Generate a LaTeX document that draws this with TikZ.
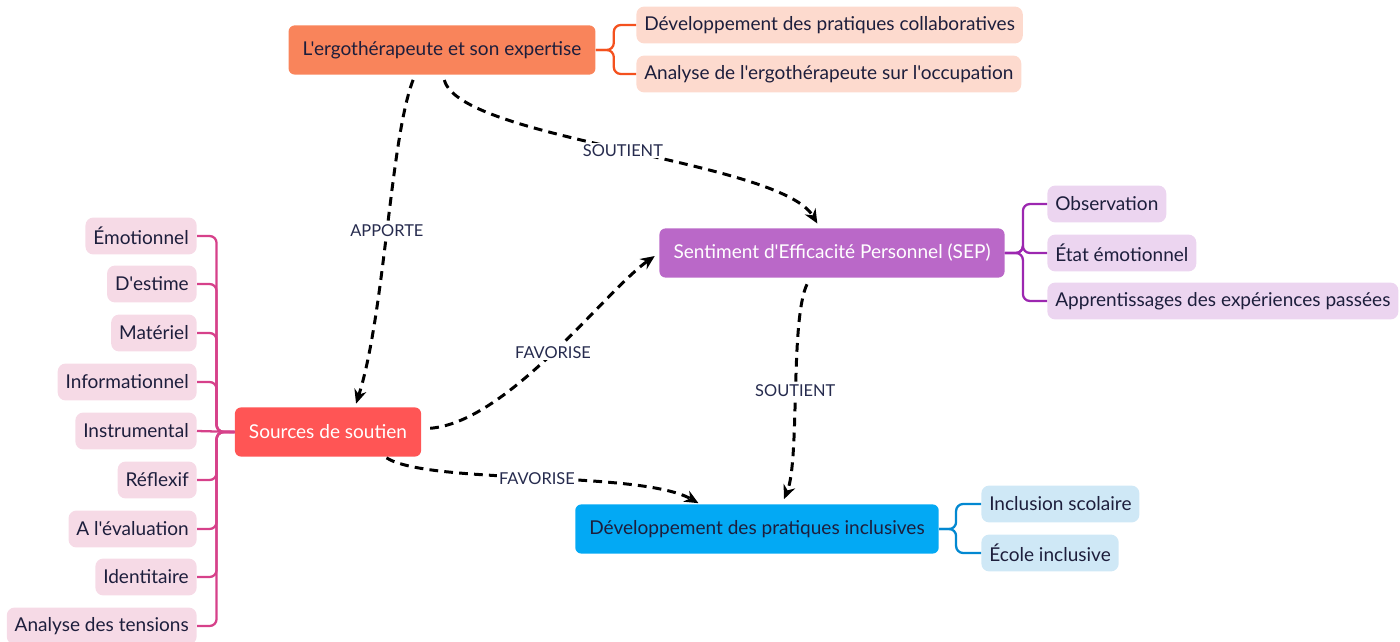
\documentclass[tikz,border=0pt]{standalone}
\usepackage{fontspec}
\setmainfont{Lato}[Ligatures=TeXOff]
\usetikzlibrary{arrows.meta,calc}
\definecolor{inkdark}{HTML}{1D1E3C}
\definecolor{tagtext}{HTML}{262B4E}
\definecolor{ergofill}{HTML}{F9845B}
\definecolor{ergoleaf}{HTML}{FDDACE}
\definecolor{ergoline}{HTML}{F4511E}
\definecolor{sepfill}{HTML}{BA68C8}
\definecolor{sepleaf}{HTML}{ECD5F0}
\definecolor{sepline}{HTML}{9C27B0}
\definecolor{srcfill}{HTML}{FF5555}
\definecolor{srcleaf}{HTML}{F6DAE6}
\definecolor{srcline}{HTML}{D6418A}
\definecolor{incfill}{HTML}{03A9F4}
\definecolor{incleaf}{HTML}{CFE8F6}
\definecolor{incline}{HTML}{0288D1}
\begin{document}
\begin{tikzpicture}[x=0.02cm,y=-0.02cm,
  every node/.style={font=\fontsize{10.8bp}{13bp}\selectfont,text=inkdark},
  topic/.style={rounded corners=3.5pt,inner xsep=8pt,minimum height=28pt},
  leaf/.style={rounded corners=4.5pt,inner xsep=4.5pt,minimum height=21pt},
  branch/.style={line width=1.3pt,rounded corners=4pt},
  link/.style={dash pattern=on 5pt off 3.5pt,line width=1.7pt,-{Stealth[length=8pt,width=7pt]}},
  tag/.style={fill=white,inner sep=1pt,font=\fontsize{9.3bp}{11bp}\selectfont,text=tagtext}]
\useasboundingbox (0,0) rectangle (1400,642);
\node[topic,fill=ergofill] (ergo) at (442,50) {L'ergothérapeute et son expertise};
\node[leaf,fill=ergoleaf,anchor=west] (collab) at (636,25) {Développement des pratiques collaboratives};
\node[leaf,fill=ergoleaf,anchor=west] (occup) at (636,74) {Analyse de l'ergothérapeute sur l'occupation};
\node[topic,fill=sepfill,text=white] (sep) at (832,253) {Sentiment d'Efficacité Personnel (SEP)};
\node[leaf,fill=sepleaf,anchor=west] (obs) at (1047,204) {Observation};
\node[leaf,fill=sepleaf,anchor=west] (etat) at (1047,253) {État émotionnel};
\node[leaf,fill=sepleaf,anchor=west] (appr) at (1047,301) {Apprentissages des expériences passées};
\node[topic,fill=srcfill,text=white] (src) at (328,432) {Sources de soutien};
\node[leaf,fill=srcleaf,anchor=east] (emot) at (197,236) {Émotionnel};
\node[leaf,fill=srcleaf,anchor=east] (estime) at (197,284) {D'estime};
\node[leaf,fill=srcleaf,anchor=east] (mat) at (197,333) {Matériel};
\node[leaf,fill=srcleaf,anchor=east] (info) at (197,382) {Informationnel};
\node[leaf,fill=srcleaf,anchor=east] (instr) at (197,431) {Instrumental\ };
\node[leaf,fill=srcleaf,anchor=east] (refl) at (197,480) {Réflexif};
\node[leaf,fill=srcleaf,anchor=east] (eval) at (197,529) {A l'évaluation};
\node[leaf,fill=srcleaf,anchor=east] (ident) at (197,577) {Identitaire};
\node[leaf,fill=srcleaf,anchor=east] (tens) at (197,626) {Analyse des tensions};
\node[topic,fill=incfill] (incl) at (757,529) {Développement des pratiques inclusives};
\node[leaf,fill=incleaf,anchor=west] (scol) at (981,504) {Inclusion scolaire};
\node[leaf,fill=incleaf,anchor=west] (ecole) at (981,553) {École inclusive};
\draw[branch,ergoline] (ergo.east) -- ++(18,0) |- (collab.west);
\draw[branch,ergoline] (ergo.east) -- ++(18,0) |- (occup.west);
\draw[branch,sepline] (sep.east) -- ++(18,0) |- (obs.west);
\draw[branch,sepline] (sep.east) -- ++(18,0) |- (etat.west);
\draw[branch,sepline] (sep.east) -- ++(18,0) |- (appr.west);
\draw[branch,incline] (incl.east) -- ++(17,0) |- (scol.west);
\draw[branch,incline] (incl.east) -- ++(17,0) |- (ecole.west);
\draw[branch,srcline] (src.west) -- ++(-18,0) |- (emot.east);
\draw[branch,srcline] (src.west) -- ++(-18,0) |- (estime.east);
\draw[branch,srcline] (src.west) -- ++(-18,0) |- (mat.east);
\draw[branch,srcline] (src.west) -- ++(-18,0) |- (info.east);
\draw[branch,srcline] (src.west) -- (instr.east);
\draw[branch,srcline] (src.west) -- ++(-18,0) |- (refl.east);
\draw[branch,srcline] (src.west) -- ++(-18,0) |- (eval.east);
\draw[branch,srcline] (src.west) -- ++(-18,0) |- (ident.east);
\draw[branch,srcline] (src.west) -- ++(-18,0) |- (tens.east);
\draw[link,shorten <=3pt,shorten >=2pt] ($(ergo.south)+(-27,0)$) .. controls +(-25,65) and +(30,-94) .. node[tag,pos=0.5] {APPORTE} ($(src.north)+(27,0)$);
\draw[link,shorten <=3pt,shorten >=3pt] ($(ergo.south)+(1,0)$) .. controls +(17,65) and +(-40,-68) .. node[tag,pos=0.5] {SOUTIENT} ($(sep.north)+(-12,0)$);
\draw[link,shorten <=5pt,shorten >=3pt] ($(src.east)+(0,-3)$) .. controls +(87,-7) and +(-53,37) .. node[tag,pos=0.5] {FAVORISE} (sep.west);
\draw[link,shorten <=1pt,shorten >=1pt] ($(src.south)+(57,0)$) .. controls +(45,28) and +(-60,-34) .. node[tag,pos=0.5] {FAVORISE} ($(incl.north)+(-57,0)$);
\draw[link,shorten <=4pt,shorten >=3pt] ($(sep.south)+(-22,0)$) .. controls +(-20,42) and +(18,-44) .. node[tag,pos=0.5] {SOUTIENT} ($(incl.north)+(25,0)$);
\end{tikzpicture}
\end{document}
